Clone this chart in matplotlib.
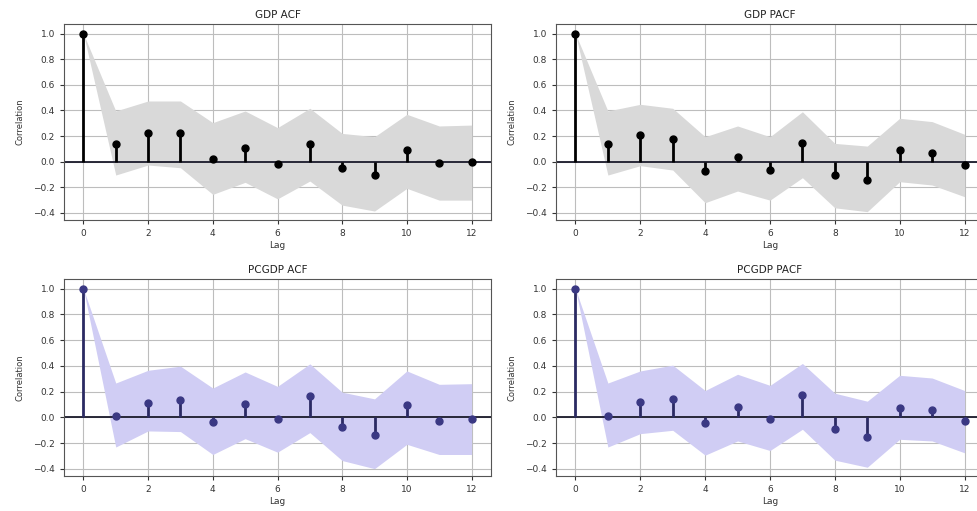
import numpy as np
import matplotlib
matplotlib.use("Agg")
import matplotlib.pyplot as plt

lags = list(range(13))

gdp_acf = [1.0, 0.138, 0.227, 0.221, 0.018, 0.109, -0.018, 0.138, -0.052, -0.104, 0.091, -0.013, 0.0]
gdp_acf_hi = [1.0, 0.396, 0.474, 0.474, 0.305, 0.396, 0.266, 0.417, 0.221, 0.195, 0.37, 0.279, 0.286]
gdp_acf_lo = [1.0, -0.104, -0.026, -0.047, -0.255, -0.161, -0.29, -0.151, -0.339, -0.385, -0.208, -0.3, -0.3]

gdp_pacf = [1.0, 0.138, 0.208, 0.174, -0.073, 0.034, -0.065, 0.143, -0.104, -0.143, 0.091, 0.07, -0.026]
gdp_pacf_hi = [1.0, 0.396, 0.448, 0.417, 0.195, 0.279, 0.195, 0.39, 0.143, 0.122, 0.339, 0.313, 0.214]
gdp_pacf_lo = [1.0, -0.104, -0.031, -0.065, -0.32, -0.229, -0.3, -0.125, -0.36, -0.39, -0.156, -0.182, -0.273]

pcgdp_acf = [1.0, 0.008, 0.113, 0.139, -0.039, 0.105, -0.013, 0.165, -0.071, -0.136, 0.097, -0.026, -0.013]
pcgdp_acf_hi = [1.0, 0.267, 0.366, 0.398, 0.228, 0.353, 0.241, 0.416, 0.196, 0.144, 0.361, 0.257, 0.262]
pcgdp_acf_lo = [1.0, -0.23, -0.105, -0.11, -0.288, -0.165, -0.27, -0.118, -0.335, -0.398, -0.209, -0.288, -0.288]

pcgdp_pacf = [1.0, 0.013, 0.118, 0.144, -0.047, 0.079, -0.013, 0.175, -0.092, -0.152, 0.073, 0.06, -0.026]
pcgdp_pacf_hi = [1.0, 0.267, 0.361, 0.406, 0.209, 0.335, 0.249, 0.419, 0.188, 0.126, 0.327, 0.306, 0.209]
pcgdp_pacf_lo = [1.0, -0.23, -0.126, -0.1, -0.293, -0.183, -0.257, -0.092, -0.332, -0.387, -0.17, -0.183, -0.275]

W, H = 978, 511
fig = plt.figure(figsize=(W / 100, H / 100), dpi=100)

def px_axes(left, top, right, bottom):
    return fig.add_axes([left / W, 1 - bottom / H, (right - left) / W, (bottom - top) / H])

# right-hand panels run past the image edge in the original screenshot
panels = [
    ("GDP ACF", gdp_acf, gdp_acf_lo, gdp_acf_hi, (64, 24, 491, 220), "black", "black", "#d9d9d9"),
    ("GDP PACF", gdp_pacf, gdp_pacf_lo, gdp_pacf_hi, (556, 24, 984, 220), "black", "black", "#d9d9d9"),
    ("PCGDP ACF", pcgdp_acf, pcgdp_acf_lo, pcgdp_acf_hi, (64, 279, 491, 476), "#2b2a63", "#3a3883", "#d0cdf4"),
    ("PCGDP PACF", pcgdp_pacf, pcgdp_pacf_lo, pcgdp_pacf_hi, (556, 279, 984, 476), "#2b2a63", "#3a3883", "#d0cdf4"),
]

for title, vals, lo, hi, box, stem_c, mark_c, band_c in panels:
    ax = px_axes(*box)
    ax.fill_between(lags, lo, hi, color=band_c, linewidth=0, zorder=1)
    ax.vlines(lags, 0, vals, color=stem_c, linewidth=2, zorder=3)
    ax.plot(lags, vals, "o", color=mark_c, markersize=5, zorder=4)
    ax.axhline(0, color="#1a1a2a", linewidth=1.3, zorder=2)
    ax.grid(True, color="#bdbdbd", linewidth=0.8, zorder=0)
    ax.set_axisbelow(True)
    ax.set_xlim(-0.6, 12.6)
    ax.set_ylim(-0.455, 1.075)
    ax.set_xticks([0, 2, 4, 6, 8, 10, 12])
    ax.set_yticks([-0.4, -0.2, 0.0, 0.2, 0.4, 0.6, 0.8, 1.0])
    ax.tick_params(labelsize=6.5, length=3, width=0.8, colors="#333333")
    ax.set_title(title, fontsize=7.5, pad=4, color="#222222")
    ax.set_xlabel("Lag", fontsize=6.5, labelpad=2, color="#333333")
    ax.set_ylabel("Correlation", fontsize=6, labelpad=6, color="#333333")
    for s in ax.spines.values():
        s.set_color("#555555")
    if box[2] > W:
        ax.spines["right"].set_visible(False)

fig.savefig("out.png", dpi=100)
